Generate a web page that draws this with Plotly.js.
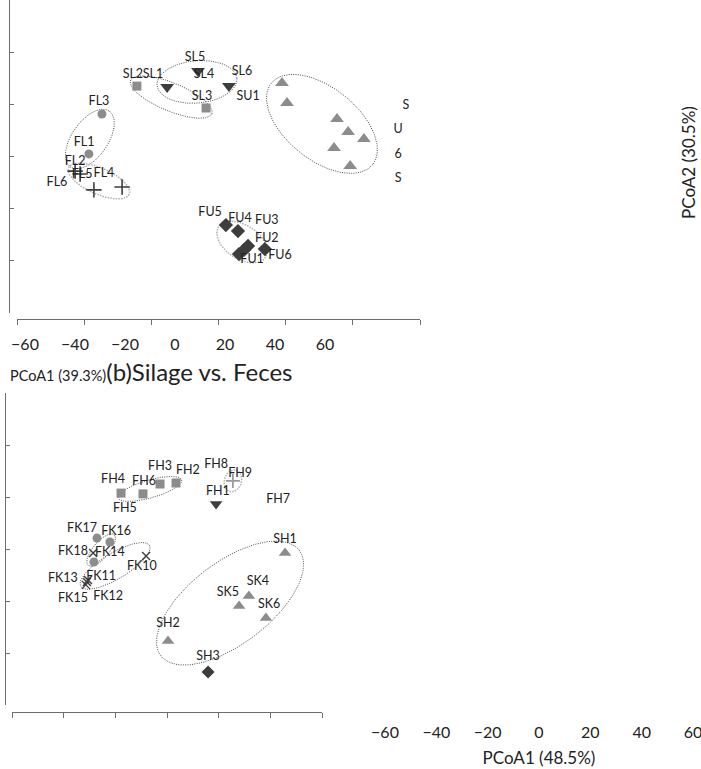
<!DOCTYPE html>
<html>
<head>
<meta charset="utf-8">
<script src="https://cdn.plot.ly/plotly-3.0.1.min.js"></script>
<style>html,body{margin:0;padding:0;background:#fff;}#chart{width:701px;height:769px;}</style>
</head>
<body>
<div id="chart"></div>
<script>
// ---------- Panel (a) : Silage vs. Feces (top) ----------
const slDownX = [-15.3, -6.1, 3.1];           // SL1, SL5/SL4, SL6
const slDownY = [26.6, 32.8, 27.0];
const slSqX = [-24.3, -3.7];                   // SL2, SL3
const slSqY = [27.0, 18.6];
const suX = [18.9, 20.4, 35.3, 38.6, 43.3, 34.4, 39.2];
const suY = [28.2, 20.5, 14.4, 9.4, 6.7, 3.3, -3.6];
const flCircX = [-34.7, -38.6];                // FL3, FL1
const flCircY = [16.3, 1.0];
const flPlusX = [-42.7, -41.2, -37.1, -28.7];  // FL2, FL5, FL6, FL4
const flPlusY = [-5.6, -6.7, -12.8, -11.7];
const fuX = [2.2, 5.8, 6.1, 7.6, 8.8, 13.8];   // FU5, FU4, FU1, FU3, FU2, FU6
const fuY = [-26.3, -28.6, -37.4, -35.8, -34.3, -35.5];

const topNames = ['SL5','SL2','SL1','SL4','SL6','SL3','SU1','FL3','FL1','FL2','FL6','FL5','FL4','FU5','FU4','FU3','FU2','FU1','FU6'];
const topNameX = [-7.0,-25.5,-19.5,-4.3,7.0,-4.9,8.8,-35.6,-40.0,-42.7,-48.1,-40.6,-34.1,-2.5,6.4,14.4,14.4,10.0,18.3];
const topNameY = [37.8,31.2,31.2,31.2,32.4,22.8,22.8,20.9,5.2,-2.1,-10.2,-7.1,-6.7,-21.7,-24.0,-24.7,-31.6,-39.7,-38.1];
const stackNames = ['S','U','6','S'];
const stackX = [55.8, 53.5, 53.5, 53.5];
const stackY = [19.4, 10.2, 0.6, -8.6];

// group ellipses (centre, semi-axis vectors U and V, in data units)
const topEllCX = [30.8, -14.1, -6.4, -38.3, -35.6, 7.0];
const topEllCY = [12.5, 22.8, 28.6, 6.7, -9.4, -32.8];
const topEllUX = [15.1, 12.1, 11.9, 5.8, 9.0, 7.0];
const topEllUY = [-15.6, -6.4, 1.3, 10.7, -5.1, -5.8];
const topEllVX = [-6.7, -1.6, 0.5, 4.4, -1.6, -2.7];
const topEllVY = [-10.8, -5.0, -8.1, -4.0, -4.6, -5.5];
const topEllLight = [false, false, false, false, true, true];

// ---------- Panel (b) : bottom ----------
const fhSqX = [-17.8, -9.3, -2.7, 3.5];       // FH4, FH6/FH5, FH3, FH2
const fhSqY = [21.5, 21.2, 25.0, 25.4];
const fh9X = [25.5];
const fh9Y = [26.2];
const fh1X = [19.0];
const fh1Y = [17.3];
const fkCircX = [-27.1, -22.1, -28.3];        // FK17, FK16, FK14
const fkCircY = [4.2, 2.7, -5.0];
const fkCrossX = [-28.6, -8.1, -31.0, -31.4, -30.6]; // FK18, FK10, FK13, FK11, FK15
const fkCrossY = [-1.5, -2.7, -12.7, -13.8, -11.9];
const skX = [45.7, 31.7, 27.9, 38.3, 0.4];    // SH1, SK4, SK5, SK6, SH2
const skY = [-1.5, -18.1, -21.9, -26.5, -35.4];
const sh3X = [15.9];
const sh3Y = [-47.3];

const botNames = ['FH4','FH6','FH3','FH2','FH8','FH9','FH1','FH5','FH7','FK17','FK16','FK18','FK14','FK10','SH1','FK13','FK11','FK15','FK12','SK4','SK5','SK6','SH2','SH3'];
const botNameX = [-20.9,-8.9,-2.7,8.1,19.0,28.3,19.7,-16.3,43.0,-32.9,-19.7,-36.4,-22.1,-9.7,45.7,-40.3,-25.5,-36.4,-22.8,35.2,23.6,39.5,0.4,15.9];
const botNameY = [26.5,25.8,31.5,30.0,32.3,28.8,21.9,15.4,18.8,7.7,6.5,-1.2,-1.5,-6.9,3.5,-11.5,-10.8,-19.2,-18.5,-12.7,-16.9,-21.5,-28.8,-41.5];

const botEllCX = [-6.6, 25.5, -25.5, -20.1, 24.4];
const botEllCY = [23.1, 26.2, -0.4, -6.5, -20.8];
const botEllUX = [12.3, 1.2, 5.0, 13.3, 26.8];
const botEllUY = [3.5, 4.1, 5.9, 7.9, 20.3];
const botEllVX = [1.0, 3.2, 2.4, 2.6, 9.6];
const botEllVY = [-3.3, -0.9, -2.0, -4.3, -12.5];
const botEllLight = [false, true, false, false, false];

const tickVals = [-60, -40, -20, 0, 20, 40, 60];

// ---------- styles ----------
const GRAY = '#8c8c8c', DARK = '#3d3d3d', TXT = '#222222';
const FONT = 'Lato, "Open Sans", sans-serif';

function pts(x, y, xa, ya, symbol, color, size, lineW) {
  const m = {symbol: symbol, color: color, size: size};
  if (lineW) m.line = {color: color, width: lineW};
  return {type: 'scatter', mode: 'markers', x: x, y: y, xaxis: xa, yaxis: ya,
          marker: m, hoverinfo: 'skip', showlegend: false, cliponaxis: false};
}
function ellipses(cx, cy, ux, uy, vx, vy, light, xa, ya) {
  const out = [];
  for (let i = 0; i < cx.length; i++) {
    const ex = [], ey = [];
    for (let k = 0; k <= 160; k++) {
      const t = 2 * Math.PI * k / 160;
      ex.push(cx[i] + ux[i] * Math.cos(t) + vx[i] * Math.sin(t));
      ey.push(cy[i] + uy[i] * Math.cos(t) + vy[i] * Math.sin(t));
    }
    out.push({type: 'scatter', mode: 'lines', x: ex, y: ey, xaxis: xa, yaxis: ya,
      line: {color: light[i] ? '#b0b0b0' : '#4a4a4a', width: light[i] ? 1.5 : 1,
             dash: light[i] ? '1.5px,1.2px' : '1px,1.3px'},
      hoverinfo: 'skip', showlegend: false});
  }
  return out;
}
function labels(names, x, y, xa, ya) {
  return {type: 'scatter', mode: 'text', x: x, y: y, text: names, xaxis: xa, yaxis: ya,
    textposition: 'middle center', textfont: {family: FONT, size: 12.5, color: TXT},
    hoverinfo: 'skip', showlegend: false, cliponaxis: false};
}

const data = [].concat(
  ellipses(topEllCX, topEllCY, topEllUX, topEllUY, topEllVX, topEllVY, topEllLight, 'x', 'y'),
  ellipses(botEllCX, botEllCY, botEllUX, botEllUY, botEllVX, botEllVY, botEllLight, 'x2', 'y2'),
  [
    pts(suX, suY, 'x', 'y', 'triangle-up', GRAY, 12),
    pts(slSqX, slSqY, 'x', 'y', 'square', GRAY, 9),
    pts(slDownX, slDownY, 'x', 'y', 'triangle-down', DARK, 12),
    pts(flCircX, flCircY, 'x', 'y', 'circle', GRAY, 9),
    pts(flPlusX, flPlusY, 'x', 'y', 'cross-thin', DARK, 11, 1.6),
    pts(fuX, fuY, 'x', 'y', 'diamond', DARK, 11),
    labels(topNames, topNameX, topNameY, 'x', 'y'),
    labels(stackNames, stackX, stackY, 'x', 'y'),
    pts(fhSqX, fhSqY, 'x2', 'y2', 'square', GRAY, 9),
    pts(fh9X, fh9Y, 'x2', 'y2', 'cross-thin', '#9a9a9a', 10, 1.8),
    pts(fh1X, fh1Y, 'x2', 'y2', 'triangle-down', DARK, 11),
    pts(fkCircX, fkCircY, 'x2', 'y2', 'circle', GRAY, 9),
    pts(fkCrossX, fkCrossY, 'x2', 'y2', 'x-thin', DARK, 8, 1.4),
    pts(skX, skY, 'x2', 'y2', 'triangle-up', GRAY, 11),
    pts(sh3X, sh3Y, 'x2', 'y2', 'diamond', DARK, 10),
    labels(botNames, botNameX, botNameY, 'x2', 'y2'),
    // carriers for the stand-alone tick-label axes
    {type: 'scatter', mode: 'markers', x: [tickVals[0], tickVals[6]], y: [null, null], xaxis: 'x3', yaxis: 'y', hoverinfo: 'skip', showlegend: false},
    {type: 'scatter', mode: 'markers', x: [tickVals[0], tickVals[6]], y: [null, null], xaxis: 'x4', yaxis: 'y2', hoverinfo: 'skip', showlegend: false}
  ]
);

const W = 701, H = 769;
const lineAx = {range: [-60, 60], tickvals: tickVals, showticklabels: false, showline: true,
  linecolor: '#6e6e6e', linewidth: 1, tickcolor: '#6e6e6e', tickwidth: 1,
  showgrid: false, zeroline: false, anchor: 'free', fixedrange: true};
const labAx = {range: [-60, 60], tickvals: tickVals, showline: false, ticks: '',
  showgrid: false, zeroline: false, anchor: 'free', fixedrange: true, ticklabeloverflow: 'allow',
  tickfont: {family: FONT, size: 16, color: TXT}};

const layout = {
  width: W, height: H, margin: {l: 0, r: 0, t: 0, b: 0},
  paper_bgcolor: '#ffffff', plot_bgcolor: 'rgba(0,0,0,0)', showlegend: false,
  font: {family: FONT, color: TXT},
  xaxis: Object.assign({}, lineAx, {domain: [17 / W, 420 / W], position: 1 - 319 / H, ticks: 'outside', ticklen: 5}),
  yaxis: Object.assign({}, lineAx, {domain: [1 - 313 / H, 1], position: 9 / W, ticks: 'inside', ticklen: 4}),
  xaxis2: Object.assign({}, lineAx, {domain: [12 / W, 322 / W], position: 1 - 712 / H, ticks: 'outside', ticklen: 5}),
  yaxis2: Object.assign({}, lineAx, {domain: [1 - 705 / H, 1 - 393 / H], position: 5 / W, ticks: 'inside', ticklen: 4}),
  xaxis3: Object.assign({}, labAx, {domain: [25 / W, 325 / W], position: 1 - 333 / H}),
  xaxis4: Object.assign({}, labAx, {domain: [385 / W, 693 / W], position: 1 - 721 / H,
    title: {text: 'PCoA1 (48.5%)', font: {family: FONT, size: 17, color: TXT}, standoff: 12}}),
  annotations: [
    {xref: 'paper', yref: 'paper', x: 8 / W, y: 1 - 371 / H, xanchor: 'left', yanchor: 'middle', showarrow: false,
     text: 'PCoA1 (39.3%)<span style="font-size:24px">(b)Silage vs. Feces</span>',
     font: {family: FONT, size: 14.5, color: TXT}},
    {xref: 'paper', yref: 'paper', x: 688 / W, y: 1 - 163 / H, xanchor: 'center', yanchor: 'middle', showarrow: false,
     textangle: -90, text: 'PCoA2 (30.5%)', font: {family: FONT, size: 17, color: TXT}}
  ]
};

Plotly.newPlot('chart', data, layout, {staticPlot: true, displayModeBar: false});
</script>
</body>
</html>
